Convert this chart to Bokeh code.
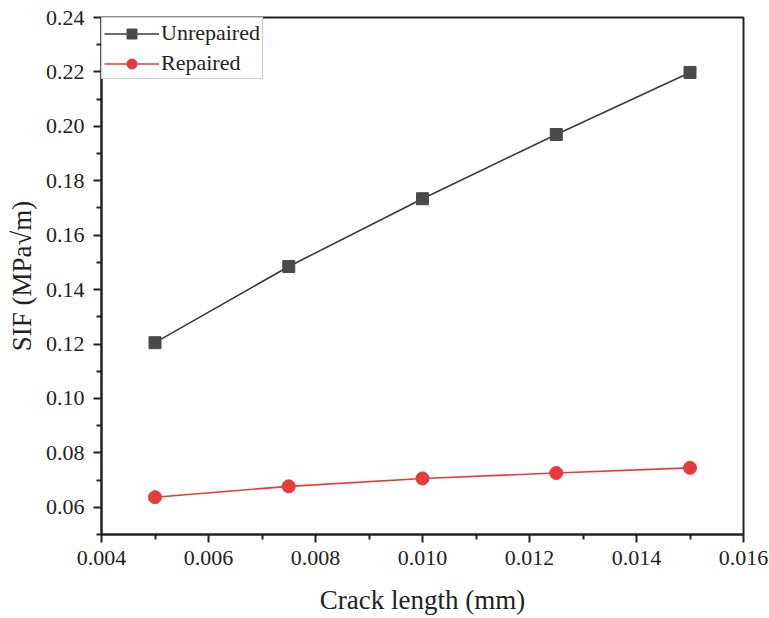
from bokeh.plotting import figure
from bokeh.models import FixedTicker, PrintfTickFormatter, Range1d
from bokeh.embed import file_html
from bokeh.resources import INLINE

crack_length = [0.005, 0.0075, 0.010, 0.0125, 0.015]
unrepaired = [0.1205, 0.1485, 0.1734, 0.1970, 0.2198]
repaired = [0.0637, 0.0677, 0.0706, 0.0726, 0.0745]

x_ticks = [0.004, 0.006, 0.008, 0.010, 0.012, 0.014, 0.016]
y_ticks = [0.06, 0.08, 0.10, 0.12, 0.14, 0.16, 0.18, 0.20, 0.22, 0.24]

FONT = "Liberation Serif"

p = figure(width=769, height=618, output_backend="svg", toolbar_location=None,
           x_range=Range1d(0.004, 0.016), y_range=Range1d(0.05, 0.24),
           min_border_left=101, min_border_right=26, min_border_top=17, min_border_bottom=84)
p.grid.visible = False
p.outline_line_color = "#222222"
p.outline_line_width = 2

p.line(crack_length, unrepaired, line_color="#3a3a3a", line_width=1.6, legend_label="Unrepaired")
p.scatter(crack_length, unrepaired, marker="square", size=12, fill_color="#4a4a4a",
          line_color="#4a4a4a", legend_label="Unrepaired")
p.line(crack_length, repaired, line_color="#e8393b", line_width=1.6, legend_label="Repaired")
p.scatter(crack_length, repaired, marker="circle", size=13, fill_color="#e8393b",
          line_color="#e8393b", legend_label="Repaired")

p.xaxis.ticker = FixedTicker(ticks=x_ticks, minor_ticks=[0.005, 0.007, 0.009, 0.011, 0.013, 0.015])
p.yaxis.ticker = FixedTicker(ticks=y_ticks, minor_ticks=[0.05, 0.07, 0.09, 0.11, 0.13, 0.15, 0.17, 0.19, 0.21, 0.23])
p.xaxis.formatter = PrintfTickFormatter(format="%.3f")
p.yaxis.formatter = PrintfTickFormatter(format="%.2f")

for ax in (p.xaxis, p.yaxis):
    ax.axis_line_width = 2
    ax.axis_line_color = "#222222"
    ax.major_tick_line_width = 2
    ax.minor_tick_line_width = 2
    ax.major_tick_line_color = "#222222"
    ax.minor_tick_line_color = "#222222"
    ax.major_tick_out = 8
    ax.major_tick_in = 0
    ax.minor_tick_out = 5
    ax.minor_tick_in = 0
    ax.major_label_text_font = FONT
    ax.major_label_text_font_size = "22px"
    ax.major_label_text_color = "#222222"
    ax.axis_label_text_font = FONT
    ax.axis_label_text_font_size = "27px"
    ax.axis_label_text_font_style = "normal"
    ax.axis_label_text_color = "#222222"

p.xaxis.axis_label = "Crack length (mm)"
p.yaxis.axis_label = "SIF (MPa\u221am)"
p.xaxis.major_label_standoff = 8
p.yaxis.major_label_standoff = 9
p.xaxis.axis_label_standoff = 17
p.yaxis.axis_label_standoff = 6

p.legend.location = "top_left"
p.legend.margin = 0
p.legend.padding = 2
p.legend.spacing = 4
p.legend.border_line_color = "#999999"
p.legend.border_line_width = 1
p.legend.label_text_font = FONT
p.legend.label_text_font_size = "22px"
p.legend.label_text_color = "#222222"
p.legend.glyph_width = 55
p.legend.glyph_height = 25
p.legend.label_standoff = 2
p.legend.background_fill_alpha = 1

open("out.html", "w").write(file_html(p, INLINE))
